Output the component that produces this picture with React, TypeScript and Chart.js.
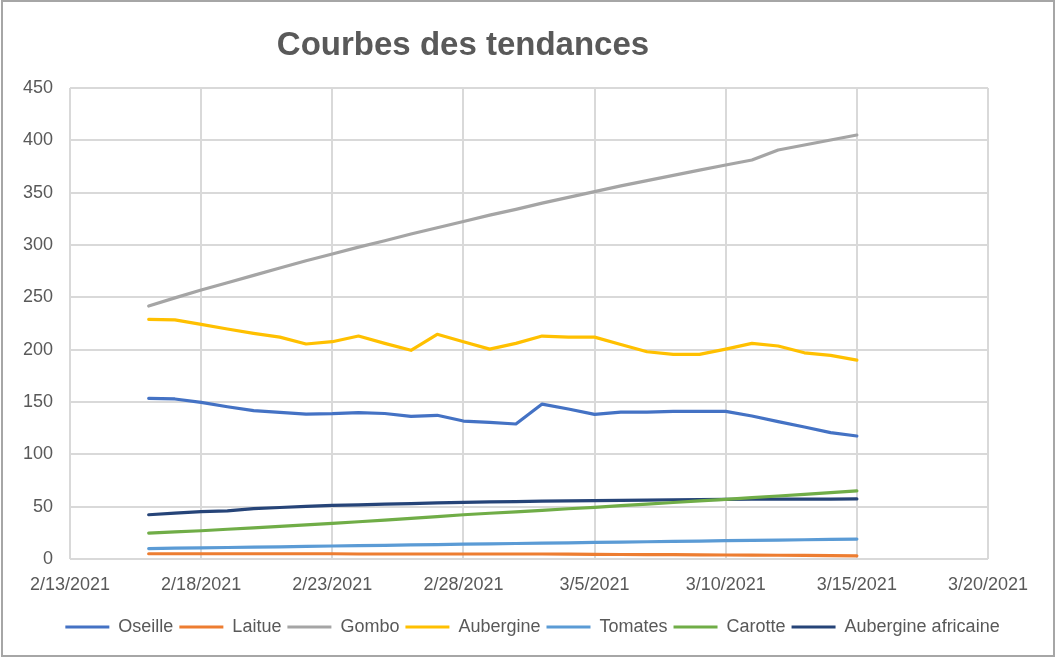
import React, { useEffect, useRef } from "react";
import { Chart, registerables } from "chart.js";

Chart.register(...registerables);

const TITLE = "Courbes des tendances";

const dates = [
  "2/16/2021", "2/17/2021", "2/18/2021", "2/19/2021", "2/20/2021", "2/21/2021", "2/22/2021",
  "2/23/2021", "2/24/2021", "2/25/2021", "2/26/2021", "2/27/2021", "2/28/2021", "3/1/2021",
  "3/2/2021", "3/3/2021", "3/4/2021", "3/5/2021", "3/6/2021", "3/7/2021", "3/8/2021",
  "3/9/2021", "3/10/2021", "3/11/2021", "3/12/2021", "3/13/2021", "3/14/2021", "3/15/2021",
];

const oseille = [153.5, 152.9, 149.7, 145.5, 141.7, 140.1, 138.5, 138.8, 139.8, 139, 136.3, 137.3, 131.8, 130.6, 129, 148, 143.3, 138.2, 140.4, 140.4, 141.1, 141.1, 141.1, 136.6, 131.2, 126.1, 120.7, 117.5];
const laitue = [5, 5, 5, 5, 5, 5, 5, 5, 4.8, 4.8, 4.8, 4.8, 4.8, 4.8, 4.8, 4.8, 4.6, 4.5, 4.3, 4.2, 4.1, 4, 3.8, 3.7, 3.6, 3.5, 3.2, 3];
const gombo = [241.7, 249.5, 257, 264, 271, 278, 285, 291.4, 298, 304, 310.5, 316.5, 322.5, 328.5, 334, 340, 345.5, 351, 356.5, 361.5, 366.5, 371.5, 376.4, 381.2, 390.8, 395.5, 400.3, 405.1];
const aubergine = [229, 228.4, 224.2, 219.7, 215.6, 212, 205.4, 207.6, 213, 206, 199.4, 214.7, 207.6, 200.5, 206, 213, 212, 212, 205, 198, 195.5, 195.5, 200.5, 206, 203.5, 197, 194.6, 190];
const tomates = [10, 10.3, 10.7, 11, 11.3, 11.6, 12, 12.4, 12.8, 13.1, 13.5, 13.8, 14.2, 14.5, 14.8, 15.1, 15.5, 15.9, 16.2, 16.5, 16.8, 17.1, 17.5, 17.8, 18.1, 18.4, 18.7, 19];
const carotte = [24.8, 26, 27, 28.4, 29.8, 31.2, 32.6, 34, 35.6, 37.2, 38.8, 40.5, 42.3, 43.7, 45.1, 46.5, 48, 49.4, 51, 52.5, 54, 55.5, 57, 58.6, 60.2, 61.8, 63.4, 65];
const aubergineAfricaine = [42.3, 43.8, 45.2, 46, 48.2, 49.2, 50.3, 51.3, 51.8, 52.4, 53, 53.6, 54.1, 54.5, 54.9, 55.3, 55.5, 55.7, 56, 56.3, 56.6, 56.8, 57, 57.1, 57.2, 57.3, 57.3, 57.4];

const seriesNames = ["Oseille", "Laitue", "Gombo", "Aubergine", "Tomates", "Carotte", "Aubergine africaine"];
const seriesValues = [oseille, laitue, gombo, aubergine, tomates, carotte, aubergineAfricaine];
const seriesColors = ["#4472C4", "#ED7D31", "#A5A5A5", "#FFC000", "#5B9BD5", "#70AD47", "#264478"];

const xMinDate = "2/13/2021";
const xMaxDate = "3/20/2021";
const xStepDays = 5;
const yMin = 0;
const yMax = 450;
const yStep = 50;

const FONT = '"Liberation Sans", Arial, sans-serif';
const TEXT = "#595959";
const GRID = "#D9D9D9";
const DAY = 86400000;

function parseDate(s: string): number {
  const [m, d, y] = s.split("/").map(Number);
  return Date.UTC(y, m - 1, d);
}
const START = parseDate(xMinDate);
const toDay = (s: string) => (parseDate(s) - START) / DAY;
const fmt = (v: number) => {
  const dt = new Date(START + Math.round(v) * DAY);
  return `${dt.getUTCMonth() + 1}/${dt.getUTCDate()}/${dt.getUTCFullYear()}`;
};

const titlePlugin = {
  id: "customTitle",
  afterDraw(chart: any) {
    const ctx = chart.ctx;
    ctx.save();
    ctx.font = `bold 33px ${FONT}`;
    ctx.fillStyle = TEXT;
    ctx.textAlign = "center";
    ctx.textBaseline = "alphabetic";
    ctx.fillText(TITLE, 463, 55);
    ctx.restore();
  },
};

const borderPlugin = {
  id: "outerBorder",
  afterDraw(chart: any) {
    const ctx = chart.ctx;
    ctx.save();
    ctx.strokeStyle = "#A6A6A6";
    ctx.lineWidth = 2;
    ctx.strokeRect(2, 1, chart.width - 3, chart.height - 3);
    ctx.restore();
  },
};

export default function App() {
  const ref = useRef<HTMLCanvasElement | null>(null);

  useEffect(() => {
    document.body.style.margin = "0";
    const canvas = ref.current;
    if (!canvas) return;
    const chart = new Chart(canvas, {
      type: "line",
      data: {
        datasets: seriesNames.map((name, i) => ({
          label: name,
          data: dates.map((d, j) => ({ x: toDay(d), y: seriesValues[i][j] })),
          borderColor: seriesColors[i],
          backgroundColor: seriesColors[i],
          borderWidth: 3.2,
          pointRadius: 0,
          pointHoverRadius: 0,
          tension: 0,
          borderJoinStyle: "round",
          borderCapStyle: "round",
          fill: false,
        })),
      },
      options: {
        animation: false,
        responsive: true,
        maintainAspectRatio: false,
        layout: { padding: { top: 88, right: 0, bottom: 12, left: 10 } },
        scales: {
          x: {
            type: "linear",
            min: 0,
            max: toDay(xMaxDate),
            offset: false,
            ticks: {
              stepSize: xStepDays,
              callback: (v: any) => fmt(Number(v)),
              color: TEXT,
              font: { family: FONT, size: 18 },
              padding: 15,
              maxRotation: 0,
              autoSkip: false,
            },
            grid: { color: GRID, lineWidth: 2, drawTicks: false },
            border: { display: false },
            afterFit: (s: any) => {
              s.height = 53;
            },
          },
          y: {
            min: yMin,
            max: yMax,
            ticks: {
              stepSize: yStep,
              color: TEXT,
              font: { family: FONT, size: 18 },
              padding: 17,
            },
            grid: { color: GRID, lineWidth: 2, drawTicks: false },
            border: { display: false },
            afterFit: (s: any) => {
              s.width = 60;
            },
          },
          yRight: {
            position: "right",
            display: true,
            ticks: { display: false },
            grid: { display: false, drawTicks: false },
            border: { display: false },
            afterFit: (s: any) => {
              s.width = 67;
            },
          },
        },
        plugins: {
          title: { display: false },
          tooltip: { enabled: false },
          legend: {
            position: "bottom",
            labels: {
              boxWidth: 44,
              boxHeight: 3,
              padding: 6,
              color: TEXT,
              font: { family: FONT, size: 18 },
              generateLabels: (c: any) =>
                (Chart.defaults.plugins.legend.labels as any).generateLabels(c).map((l: any) => ({
                  ...l,
                  lineWidth: 0,
                  fillStyle: l.strokeStyle,
                })),
            },
          },
        },
      },
      plugins: [titlePlugin, borderPlugin],
    } as any);
    return () => chart.destroy();
  }, []);

  return (
    <div style={{ position: "absolute", left: 0, top: 0, width: 1055, height: 658, background: "#fff" }}>
      <canvas ref={ref} />
    </div>
  );
}
